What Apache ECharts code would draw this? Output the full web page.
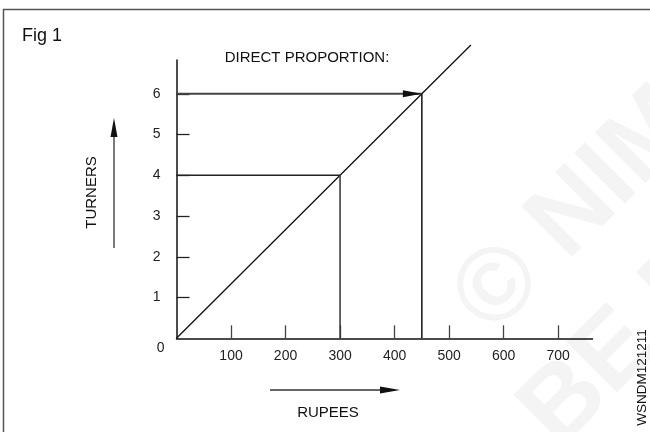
<!DOCTYPE html>
<html>
<head>
<meta charset="utf-8">
<script src="https://cdn.jsdelivr.net/npm/echarts@6/dist/echarts.min.js"></script>
<style>
  html, body { margin: 0; padding: 0; background: #fff; }
  #chart { width: 650px; height: 432px; }
</style>
</head>
<body>
<div id="chart"></div>
<script>
// Axis tick values
const rupeeTicks = [100, 200, 300, 400, 500, 600, 700];
const turnerTicks = [0, 1, 2, 3, 4, 5, 6];
const turnerMarks = [1, 2, 3, 4, 5, 6];

// Direct proportion: 4 turners for 300 rupees, 6 turners for 450 rupees
const proportionLine = [[0, 0], [300, 4], [450, 6], [540, 7.2]];
const guideFourH = [[0, 4], [300, 4]];
const guideFourV = [[300, 4], [300, 0]];
const guideSixH = [[0, 6], [450, 6]];
const guideSixV = [[450, 6], [450, 0]];
const arrowTip = [[450, 6]];

const FONT = '"Liberation Sans", Arial, Helvetica, sans-serif';
const chart = echarts.init(document.getElementById('chart'), null, { renderer: 'canvas' });

function plainLine(data, color, width) {
  return {
    type: 'line', data: data, symbol: 'none', silent: true, clip: false,
    lineStyle: { color: color, width: width }, z: 3
  };
}

chart.setOption({
  animation: false,
  backgroundColor: '#fff',
  grid: { left: 176.5, top: 60, right: 57.5, bottom: 93.7 },
  xAxis: {
    type: 'value', min: 0, max: 763, interval: 100,
    axisLine: { lineStyle: { color: '#111', width: 1.5 } },
    axisTick: { inside: true, length: 13, customValues: rupeeTicks, lineStyle: { color: '#444', width: 1.3 } },
    axisLabel: { customValues: rupeeTicks, fontSize: 14, margin: 11, color: '#222', fontFamily: FONT },
    splitLine: { show: false }
  },
  yAxis: {
    type: 'value', min: 0, max: 6.83, interval: 1,
    axisLine: { show: true, lineStyle: { color: '#111', width: 1.5 } },
    axisTick: { show: true, inside: true, length: 13, customValues: turnerMarks, lineStyle: { color: '#222', width: 1.3 } },
    axisLabel: {
      customValues: turnerTicks, margin: 12, color: '#222', fontFamily: FONT, fontSize: 14,
      formatter: function (v) { return v === 0 ? '{z|0}' : '{n|' + v + '}'; },
      rich: {
        n: { fontSize: 14, fontFamily: FONT, color: '#222', padding: [0, 4, 0, 0] },
        z: { fontSize: 14, fontFamily: FONT, color: '#222', padding: [19, 0, 0, 0] }
      }
    },
    splitLine: { show: false }
  },
  series: [
    plainLine(proportionLine, '#111', 1.3),
    plainLine(guideFourH, '#222', 1.5),
    plainLine(guideFourV, '#333', 1.5),
    plainLine(guideSixH, '#444', 2),
    plainLine(guideSixV, '#111', 1.5),
    {
      type: 'custom', data: arrowTip, silent: true, z: 4,
      encode: { x: 0, y: 1 },
      renderItem: function (params, api) {
        const p = api.coord([api.value(0), api.value(1)]);
        return {
          type: 'polygon',
          shape: { points: [[p[0], p[1]], [p[0] - 19, p[1] - 3.5], [p[0] - 19, p[1] + 3.5]] },
          style: { fill: '#111' }
        };
      }
    }
  ],
  graphic: [
    // faint watermark
    { type: 'text', x: 472, y: 316, rotation: Math.PI / 4, z: -10, silent: true,
      style: { text: '© NIMI', font: 'bold 104px ' + FONT, fill: '#f4f4f4', verticalAlign: 'middle', align: 'left' } },
    { type: 'text', x: 242, y: 727, rotation: Math.PI / 4, z: -10, silent: true,
      style: { text: 'NOT TO BE REPUBLISHED', font: 'bold 104px ' + FONT, fill: '#f4f4f4', verticalAlign: 'middle', align: 'left' } },
    // frame
    { type: 'polyline', silent: true, shape: { points: [[3.5, 432], [3.5, 9.5], [650, 9.5]] },
      style: { stroke: '#555', lineWidth: 1.5, fill: null } },
    { type: 'text', x: 22, y: 36, silent: true,
      style: { text: 'Fig 1', font: '18px ' + FONT, fill: '#111', verticalAlign: 'middle', align: 'left' } },
    { type: 'text', x: 307, y: 58, silent: true,
      style: { text: 'DIRECT PROPORTION:', font: '15px ' + FONT, fill: '#111', verticalAlign: 'middle', align: 'center' } },
    // vertical axis caption with arrow
    { type: 'text', x: 92, y: 192.5, rotation: Math.PI / 2, silent: true,
      style: { text: 'TURNERS', font: '15px ' + FONT, fill: '#111', verticalAlign: 'middle', align: 'center' } },
    { type: 'line', silent: true, shape: { x1: 114, y1: 248, x2: 114, y2: 134 }, style: { stroke: '#333', lineWidth: 1.3 } },
    { type: 'polygon', silent: true, shape: { points: [[114, 118], [110.5, 137], [117.5, 137]] }, style: { fill: '#111' } },
    // horizontal axis caption with arrow
    { type: 'line', silent: true, shape: { x1: 270, y1: 390, x2: 384, y2: 390 }, style: { stroke: '#333', lineWidth: 1.3 } },
    { type: 'polygon', silent: true, shape: { points: [[400, 390], [380, 386.5], [380, 393.5]] }, style: { fill: '#111' } },
    { type: 'text', x: 328, y: 413, silent: true,
      style: { text: 'RUPEES', font: '15px ' + FONT, fill: '#111', verticalAlign: 'middle', align: 'center' } },
    // figure code
    { type: 'text', x: 642.7, y: 377.5, rotation: Math.PI / 2, silent: true,
      style: { text: 'WSNDM121211', font: '13.5px ' + FONT, fill: '#111', verticalAlign: 'middle', align: 'center' } }
  ]
});
</script>
</body>
</html>
